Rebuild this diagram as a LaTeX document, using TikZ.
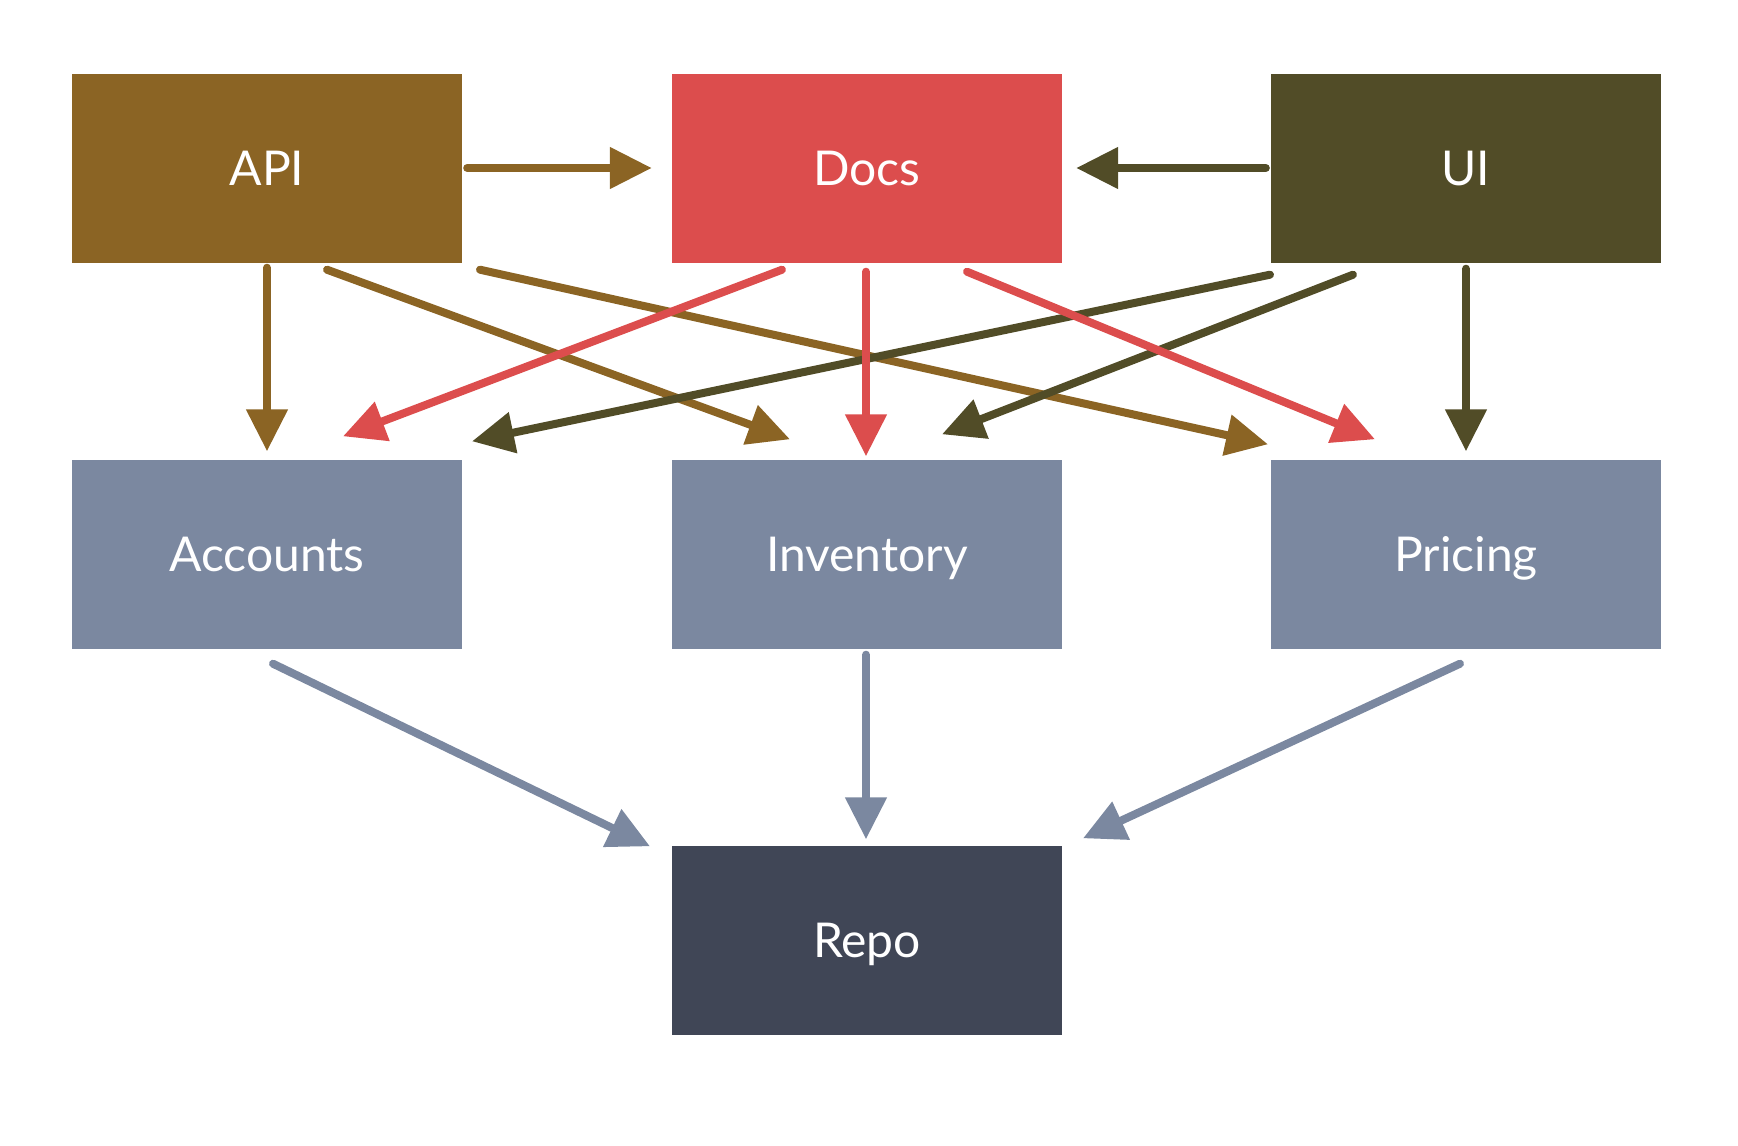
\documentclass[tikz,border=0pt]{standalone}
\usepackage{fontspec}
\setmainfont{Lato}
\usetikzlibrary{arrows.meta}
\definecolor{cApi}{HTML}{8B6424}
\definecolor{cDocs}{HTML}{DC4D4D}
\definecolor{cUi}{HTML}{514C27}
\definecolor{cMid}{HTML}{7B88A0}
\definecolor{cRepo}{HTML}{404656}
\tikzset{
  box/.style={rectangle, inner sep=0pt, minimum width=390pt, minimum height=189pt,
    text=white, font=\fontsize{48}{56}\selectfont, text height=35pt, text depth=0pt},
  conn/.style={line width=8pt, line cap=round, -{Triangle[length=42pt,width=40pt]}},
}
\begin{document}
\begin{tikzpicture}[x=1pt,y=-1pt]
\useasboundingbox (0,0) rectangle (1738,1146);
\node[box, fill=cApi]  (api)  at (267,168) {API};
\node[box, fill=cDocs] (docs) at (867,168) {Docs};
\node[box, fill=cUi]   (ui)   at (1466,168) {UI};
\node[box, fill=cMid]  (acc)  at (267,554) {Accounts};
\node[box, fill=cMid]  (inv)  at (867,554) {Inventory};
\node[box, fill=cMid]  (pri)  at (1466,554) {Pricing};
\node[box, fill=cRepo] (repo) at (867,940) {Repo};
% API edges
\draw[conn, cApi] ([shift={(5,0)}]api.east) -- ([shift={(-20,0)}]docs.west);
\draw[conn, cApi] ([shift={(0,5)}]api.south) -- ([shift={(0,-8)}]acc.north);
\draw[conn, cApi] ([shift={(60,7)}]api.south) -- ([shift={(-77,-20)}]inv.north);
\draw[conn, cApi] ([shift={(213,7)}]api.south) -- ([shift={(-198,-15)}]pri.north);
% UI edges
\draw[conn, cUi] ([shift={(-5,0)}]ui.west) -- ([shift={(14,0)}]docs.east);
\draw[conn, cUi] ([shift={(-196,12)}]ui.south) -- ([shift={(205,-18)}]acc.north);
\draw[conn, cUi] ([shift={(-113,12)}]ui.south) -- ([shift={(75,-25)}]inv.north);
\draw[conn, cUi] ([shift={(0,6)}]ui.south) -- ([shift={(0,-8)}]pri.north);
% Docs edges
\draw[conn, cDocs] ([shift={(-85,7)}]docs.south) -- ([shift={(76,-23)}]acc.north);
\draw[conn, cDocs] ([shift={(-1,9)}]docs.south) -- ([shift={(-1,-3)}]inv.north);
\draw[conn, cDocs] ([shift={(100,9)}]docs.south) -- ([shift={(-91,-20)}]pri.north);
% to Repo
\draw[conn, cMid] ([shift={(6,15)}]acc.south) -- ([shift={(-217,1)}]repo.north);
\draw[conn, cMid] ([shift={(-1,6)}]inv.south) -- ([shift={(-1,-6)}]repo.north);
\draw[conn, cMid] ([shift={(-6,15)}]pri.south) -- ([shift={(216,-7)}]repo.north);
\end{tikzpicture}
\end{document}
